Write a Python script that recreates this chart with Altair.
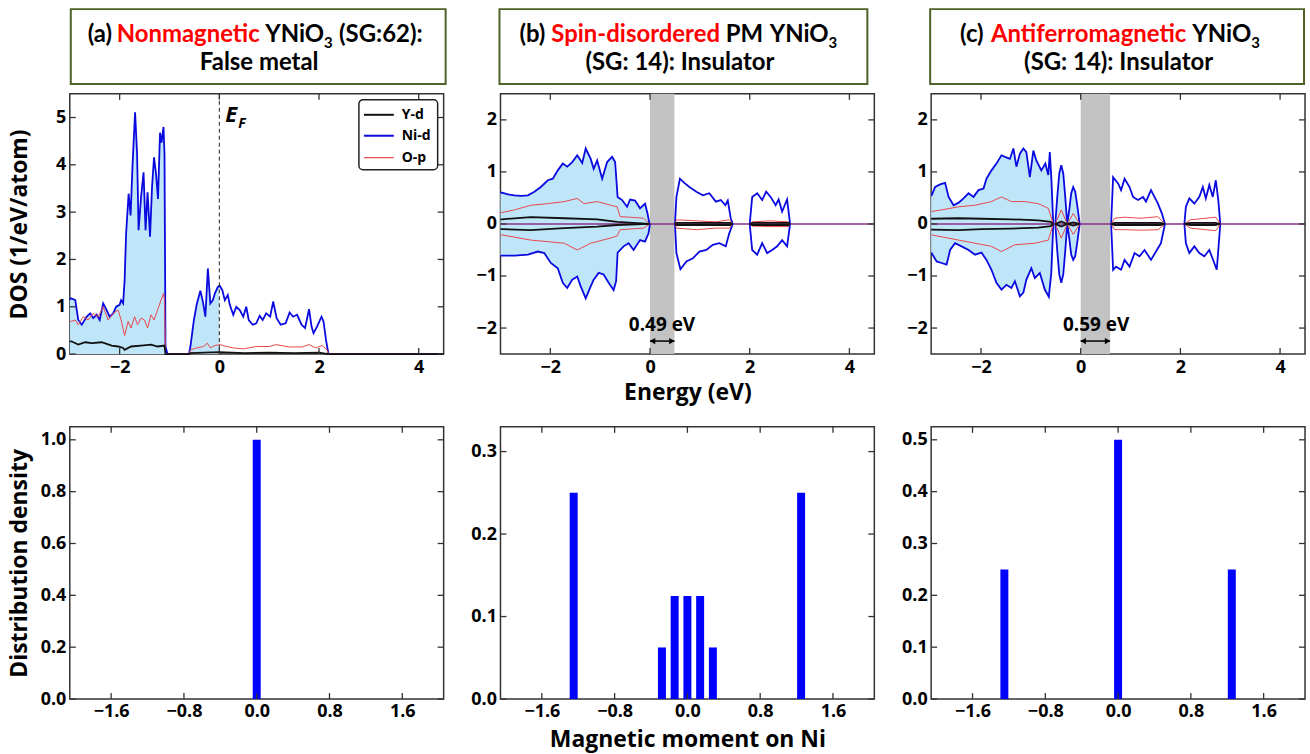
import altair as alt
import pandas as pd

# ---------------- data ----------------
# Panel (a): nonmagnetic DOS
A_NI_E = [-3.0, -2.97, -2.89, -2.83, -2.76, -2.66, -2.59, -2.53, -2.46, -2.40, -2.33, -2.26, -2.20, -2.13, -2.07,
          -2.00, -1.97, -1.93, -1.90, -1.87, -1.82, -1.78, -1.74, -1.69, -1.65, -1.62, -1.57, -1.52, -1.48, -1.44,
          -1.39, -1.35, -1.31, -1.27, -1.23, -1.19, -1.16, -1.12, -1.10, -1.08, -1.04, -0.61, -0.58, -0.51, -0.45,
          -0.38, -0.33, -0.28, -0.23, -0.18, -0.13, -0.09, -0.03, 0.0, 0.01, 0.06, 0.11, 0.17, 0.21, 0.28, 0.34,
          0.41, 0.48, 0.54, 0.59, 0.67, 0.74, 0.81, 0.87, 0.94, 1.02, 1.08, 1.15, 1.23, 1.33, 1.41, 1.48, 1.56,
          1.65, 1.72, 1.80, 1.85, 1.89, 1.96, 2.05, 2.09, 2.14, 2.19, 4.5]
A_NI_V = [1.15, 1.18, 1.14, 0.72, 0.62, 0.79, 0.86, 0.76, 0.83, 0.72, 1.07, 0.93, 0.79, 0.86, 1.00,
          1.04, 1.14, 1.07, 1.56, 2.55, 3.39, 2.93, 4.02, 5.11, 4.23, 2.62, 3.32, 3.84, 2.62, 3.42,
          2.48, 3.53, 4.16, 3.81, 3.28, 4.68, 4.47, 4.80, 4.23, 0.16, 0.0, 0.0, 0.16, 0.72, 1.07,
          1.34, 1.11, 0.79, 1.81, 1.07, 1.14, 1.28, 1.42, 1.44, 1.44, 1.35, 1.14, 1.25, 1.04, 0.83, 1.00,
          0.93, 0.79, 1.00, 0.72, 0.62, 0.65, 0.81, 0.72, 0.86, 0.79, 1.11, 0.76, 0.62, 0.65, 0.88, 0.79, 0.83,
          0.62, 0.55, 0.95, 0.58, 0.44, 0.58, 0.79, 0.69, 0.30, 0.0, 0.0]
A_OP_E = [-3.0, -2.97, -2.89, -2.83, -2.73, -2.63, -2.53, -2.43, -2.33, -2.23, -2.13, -2.03, -1.97, -1.90, -1.83,
          -1.77, -1.70, -1.64, -1.57, -1.50, -1.44, -1.37, -1.31, -1.24, -1.17, -1.12, -1.10, -1.08, -0.61, -0.58,
          -0.45, -0.32, -0.24, -0.18, -0.09, 0.01, 0.15, 0.28, 0.48, 0.74, 1.00, 1.14, 1.40, 1.66, 1.80, 1.93,
          2.06, 2.16, 2.19, 4.5]
A_OP_V = [0.70, 0.69, 0.72, 0.62, 0.79, 0.72, 0.86, 0.79, 1.00, 0.72, 0.86, 0.93, 0.72, 0.39, 0.69,
          0.55, 0.79, 0.62, 0.76, 0.72, 0.55, 0.83, 0.72, 0.93, 1.14, 1.28, 1.14, 0.0, 0.0, 0.09,
          0.13, 0.16, 0.23, 0.13, 0.18, 0.20, 0.16, 0.13, 0.11, 0.16, 0.16, 0.20, 0.15, 0.15, 0.20, 0.13,
          0.18, 0.09, 0.0, 0.0]
A_YD_E = [-3.0, -2.97, -2.83, -2.69, -2.56, -2.36, -2.16, -2.03, -1.93, -1.90, -1.77, -1.57, -1.37, -1.24,
          -1.10, -1.08, -0.61, -0.58, -0.30, 0.0, 0.5, 1.0, 1.5, 2.0, 2.19, 4.5]
A_YD_V = [0.27, 0.27, 0.20, 0.25, 0.23, 0.25, 0.18, 0.16, 0.13, 0.09, 0.16, 0.18, 0.20, 0.16,
          0.18, 0.0, 0.0, 0.02, 0.03, 0.04, 0.02, 0.03, 0.02, 0.03, 0.0, 0.0]

# Panel (b): spin-disordered PM DOS (up = positive, down = negative)
B_NIU_E = [-3.0, -2.97, -2.85, -2.72, -2.58, -2.45, -2.32, -2.19, -2.05, -1.95, -1.85, -1.75, -1.66, -1.56,
           -1.46, -1.36, -1.29, -1.19, -1.13, -1.06, -0.96, -0.86, -0.76, -0.70, -0.65, -0.56, -0.46, -0.40,
           -0.30, -0.20, -0.10, -0.05, -0.01, 0.50, 0.53, 0.60, 0.70, 0.79, 0.93, 1.06, 1.19, 1.32, 1.42, 1.51,
           1.56, 1.62, 1.66, 2.00, 2.05, 2.15, 2.25, 2.33, 2.42, 2.52, 2.58, 2.65, 2.75, 2.81, 4.5]
B_NIU_V = [0.60, 0.60, 0.57, 0.55, 0.54, 0.55, 0.62, 0.71, 0.84, 0.87, 1.03, 1.16, 1.10, 1.19,
           1.32, 1.17, 1.45, 1.25, 1.06, 1.22, 0.87, 1.19, 1.29, 1.19, 0.52, 0.46, 0.33, 0.47,
           0.45, 0.30, 0.39, 0.20, 0.0, 0.0, 0.52, 0.87, 0.78, 0.71, 0.62, 0.55, 0.59, 0.43, 0.46, 0.36,
           0.45, 0.11, 0.0, 0.0, 0.52, 0.59, 0.46, 0.62, 0.52, 0.36, 0.47, 0.24, 0.47, 0.0, 0.0]
B_NID_E = [-3.0, -2.97, -2.72, -2.45, -2.25, -2.12, -1.99, -1.85, -1.75, -1.66, -1.56, -1.46, -1.39, -1.29,
           -1.19, -1.13, -1.03, -0.93, -0.83, -0.73, -0.68, -0.65, -0.53, -0.43, -0.33, -0.20, -0.10, -0.03,
           0.0, 0.50, 0.53, 0.61, 0.73, 0.86, 0.99, 1.13, 1.26, 1.39, 1.52, 1.59, 1.66, 2.00, 2.05, 2.15,
           2.25, 2.35, 2.45, 2.55, 2.65, 2.75, 2.81, 4.5]
B_NID_V = [-0.61, -0.61, -0.61, -0.59, -0.53, -0.56, -0.75, -0.85, -1.13, -1.23, -1.07, -1.01, -1.20, -1.43,
           -1.20, -1.07, -0.94, -0.97, -1.13, -1.27, -1.10, -0.55, -0.43, -0.37, -0.50, -0.31, -0.34, -0.18,
           0.0, 0.0, -0.56, -0.87, -0.72, -0.66, -0.53, -0.50, -0.40, -0.37, -0.43, -0.18, 0.0, 0.0, -0.50, -0.59,
           -0.37, -0.56, -0.50, -0.43, -0.31, -0.43, 0.0, 0.0]
B_OPU_E = [-3.0, -2.97, -2.72, -2.39, -2.05, -1.72, -1.46, -1.32, -1.06, -0.79, -0.66, -0.60, -0.40, -0.13,
           -0.01, 0.50, 0.53, 0.93, 1.32, 1.59, 1.66, 2.00, 2.05, 2.42, 2.78, 2.81, 4.5]
B_OPU_V = [0.22, 0.22, 0.27, 0.36, 0.39, 0.43, 0.49, 0.39, 0.43, 0.36, 0.33, 0.14, 0.13, 0.11,
           0.0, 0.0, 0.08, 0.06, 0.04, 0.08, 0.0, 0.0, 0.04, 0.06, 0.04, 0.0, 0.0]
B_OPD_E = [-3.0, -2.97, -2.39, -2.05, -1.72, -1.46, -1.19, -0.79, -0.66, -0.60, -0.13, -0.01, 0.50, 0.53,
           0.93, 1.32, 1.59, 1.66, 2.00, 2.05, 2.42, 2.78, 2.81, 4.5]
B_OPD_V = [-0.21, -0.21, -0.31, -0.34, -0.37, -0.50, -0.37, -0.27, -0.23, -0.11, -0.08, 0.0, 0.0, -0.08,
           -0.11, -0.08, -0.08, 0.0, 0.0, -0.04, -0.05, -0.05, 0.0, 0.0]
B_YDU_E = [-3.0, -2.97, -2.39, -1.72, -1.06, -0.66, -0.01, 0.50, 0.53, 1.60, 1.66, 2.00, 2.05, 2.78, 2.81, 4.5]
B_YDU_V = [0.09, 0.09, 0.13, 0.11, 0.09, 0.04, 0.0, 0.0, 0.02, 0.02, 0.0, 0.0, 0.02, 0.02, 0.0, 0.0]
B_YDD_E = [-3.0, -2.97, -2.39, -1.72, -1.06, -0.66, -0.01, 0.50, 0.53, 1.60, 1.66, 2.00, 2.05, 2.78, 2.81, 4.5]
B_YDD_V = [-0.10, -0.10, -0.12, -0.08, -0.05, -0.02, 0.0, 0.0, -0.02, -0.02, 0.0, 0.0, -0.02, -0.02, 0.0, 0.0]

# Panel (c): antiferromagnetic DOS
C_NIU_E = [-3.0, -2.99, -2.92, -2.82, -2.72, -2.65, -2.55, -2.45, -2.35, -2.25, -2.15, -2.05, -1.95, -1.89,
           -1.79, -1.69, -1.59, -1.52, -1.42, -1.35, -1.29, -1.22, -1.15, -1.09, -1.02, -0.95, -0.89, -0.79,
           -0.71, -0.65, -0.62, -0.59, -0.55, -0.51, -0.47, -0.43, -0.39, -0.35, -0.31, -0.27, -0.23, -0.19,
           -0.15, -0.11, -0.07, -0.02, 0.61, 0.65, 0.75, 0.81, 0.88, 0.98, 1.05, 1.15, 1.25, 1.31, 1.41, 1.48,
           1.55, 1.63, 1.69, 2.08, 2.11, 2.18, 2.28, 2.38, 2.45, 2.51, 2.58, 2.65, 2.71, 2.76, 2.80, 4.5]
C_NIU_V = [0.55, 0.55, 0.71, 0.76, 0.79, 0.52, 0.36, 0.41, 0.49, 0.59, 0.52, 0.65, 0.68, 0.87,
           1.03, 1.16, 1.32, 1.29, 1.25, 1.45, 1.10, 1.35, 1.45, 1.38, 0.90, 1.41, 1.22, 1.03,
           1.16, 0.94, 1.38, 0.90, 0.0, 0.0, 0.52, 0.97, 1.13, 0.97, 0.52, 0.0, 0.27, 0.59,
           0.71, 0.62, 0.36, 0.0, 0.0, 0.90, 0.78, 0.65, 0.87, 0.71, 0.52, 0.46, 0.52, 0.43, 0.65, 0.52,
           0.39, 0.20, 0.0, 0.0, 0.33, 0.49, 0.39, 0.52, 0.71, 0.49, 0.75, 0.52, 0.84, 0.46, 0.0, 0.0]
C_NID_E = [-3.0, -2.99, -2.89, -2.79, -2.69, -2.62, -2.52, -2.39, -2.25, -2.12, -1.99, -1.89, -1.79, -1.69,
           -1.59, -1.49, -1.39, -1.32, -1.22, -1.15, -1.09, -0.99, -0.92, -0.82, -0.72, -0.64, -0.59, -0.55,
           -0.51, -0.47, -0.43, -0.39, -0.35, -0.31, -0.27, -0.23, -0.19, -0.15, -0.11, -0.07, -0.02, 0.61,
           0.65, 0.71, 0.81, 0.88, 0.98, 1.08, 1.18, 1.28, 1.41, 1.51, 1.61, 1.69, 2.08, 2.11, 2.18, 2.28,
           2.38, 2.48, 2.58, 2.68, 2.73, 2.80, 4.5]
C_NID_V = [-0.56, -0.56, -0.72, -0.75, -0.78, -0.50, -0.37, -0.43, -0.50, -0.59, -0.55, -0.69, -0.88, -1.13,
           -1.26, -1.17, -1.23, -1.10, -1.39, -1.32, -1.07, -0.85, -1.04, -0.94, -1.26, -1.40, -0.94, 0.0,
           0.0, -0.52, -0.97, -1.13, -0.97, -0.52, 0.0, -0.27, -0.59, -0.69, -0.62, -0.36, 0.0, 0.0,
           -0.88, -0.82, -0.88, -0.69, -0.82, -0.56, -0.62, -0.50, -0.69, -0.53, -0.37, 0.0, 0.0, -0.37, -0.56, -0.43,
           -0.56, -0.62, -0.50, -0.75, -0.88, 0.0, 0.0]
C_OPU_E = [-3.0, -2.99, -2.79, -2.45, -2.12, -1.79, -1.59, -1.39, -1.12, -0.85, -0.65, -0.55, -0.51, -0.39,
           -0.27, -0.15, -0.02, 0.61, 0.68, 0.88, 1.21, 1.55, 1.69, 2.08, 2.20, 2.71, 2.80, 4.5]
C_OPU_V = [0.24, 0.24, 0.27, 0.33, 0.36, 0.43, 0.52, 0.43, 0.43, 0.39, 0.30, 0.0, 0.0, 0.27,
           0.0, 0.20, 0.0, 0.0, 0.11, 0.13, 0.11, 0.14, 0.0, 0.0, 0.08, 0.13, 0.0, 0.0]
C_OPD_E = [-3.0, -2.99, -2.45, -2.12, -1.79, -1.59, -1.32, -0.92, -0.65, -0.55, -0.51, -0.39, -0.27, -0.15,
           -0.02, 0.61, 0.68, 0.88, 1.21, 1.55, 1.69, 2.08, 2.20, 2.71, 2.80, 4.5]
C_OPD_V = [-0.21, -0.21, -0.31, -0.37, -0.43, -0.53, -0.40, -0.37, -0.31, 0.0, 0.0, -0.27, 0.0, -0.20,
           0.0, 0.0, -0.11, -0.11, -0.12, -0.11, 0.0, 0.0, -0.08, -0.13, 0.0, 0.0]
C_YDU_E = [-3.0, -2.99, -2.45, -1.99, -1.39, -0.85, -0.60, -0.55, -0.51, -0.39, -0.27, -0.15, -0.02, 0.61,
           0.68, 1.60, 1.69, 2.08, 2.20, 2.70, 2.80, 4.5]
C_YDU_V = [0.10, 0.10, 0.11, 0.10, 0.09, 0.07, 0.04, 0.0, 0.0, 0.05, 0.0, 0.03, 0.0, 0.0,
           0.02, 0.02, 0.0, 0.0, 0.02, 0.02, 0.0, 0.0]
C_YDD_E = C_YDU_E
C_YDD_V = [-0.11, -0.11, -0.12, -0.10, -0.09, -0.07, -0.04, 0.0, 0.0, -0.05, 0.0, -0.03, 0.0, 0.0,
           -0.02, -0.02, 0.0, 0.0, -0.02, -0.02, 0.0, 0.0]

GAP_B = 0.49
GAP_C = 0.59

# Magnetic moment histograms
HA_M = [0.0]
HA_D = [1.0]
HB_M = [-1.25, -0.28, -0.14, 0.0, 0.14, 0.28, 1.25]
HB_D = [0.25, 0.0625, 0.125, 0.125, 0.125, 0.0625, 0.25]
HC_M = [-1.25, 0.0, 1.25]
HC_D = [0.25, 0.5, 0.25]

DOS_XTICKS = [-2, 0, 2, 4]
DOSA_YTICKS = [0, 1, 2, 3, 4, 5]
DOSBC_YTICKS = [-2, -1, 0, 1, 2]
HIST_XTICKS = [-1.6, -0.8, 0.0, 0.8, 1.6]
HA_YTICKS = [0.0, 0.2, 0.4, 0.6, 0.8, 1.0]
HB_YTICKS = [0.0, 0.1, 0.2, 0.3]
HC_YTICKS = [0.0, 0.1, 0.2, 0.3, 0.4, 0.5]

# ---------------- styling ----------------
W = 375
H_DOS = 261
H_HIST = 273
FONT = "Open Sans"
TFONT = "Lato"
TSIZE = 24
BLUE = "#0a0ae0"
RED = "#e8484a"
BLACK = "#111111"
FILL = "#bfe5f8"
BOXC = "#4f6228"
ZEROC = "#8a2f8a"
DUMMY = pd.DataFrame({"k": [0]})


def df(e, v):
    return pd.DataFrame({"E": e, "V": v})


def seg_df(e, v):
    """Split a curve into pieces, leaving out spans where the curve sits at zero."""
    rows, s = [], 0
    for i in range(len(e)):
        rows.append({"E": e[i], "V": v[i], "s": s})
        if i < len(e) - 1 and v[i] == 0 and v[i + 1] == 0:
            s += 1
    return pd.DataFrame(rows)


def xenc(dom, vals, fmt, title=None, title_y=39):
    kw = dict(values=vals, format=fmt, labelPadding=4, labelFlush=False, labelOverlap=False)
    if title:
        kw.update(title=title, titleY=title_y, titleBaseline="middle", titleAlign="center")
    else:
        kw["title"] = None
    return alt.X("E:Q", scale=alt.Scale(domain=dom, nice=False, zero=False), axis=alt.Axis(**kw))


def yenc(dom, vals, fmt, h, title=None):
    kw = dict(values=vals, format=fmt, labelPadding=4, labelFlush=False, labelOverlap=False)
    if title:
        kw.update(title=title, titleX=-50, titleY=h / 2, titleBaseline="middle", titleAlign="center",
                  titleAngle=270)
    else:
        kw["title"] = None
    return alt.Y("V:Q", scale=alt.Scale(domain=dom, nice=False, zero=False), axis=alt.Axis(**kw))


def ticks(X, Y, xt, yt, h):
    tx = pd.DataFrame({"E": xt})
    ty = pd.DataFrame({"V": yt})
    L = []
    L.append(alt.Chart(tx).mark_rule(color="#333", strokeWidth=1.3).encode(x=X, y=alt.value(h), y2=alt.value(h - 6)))
    L.append(alt.Chart(tx).mark_rule(color="#333", strokeWidth=1.3).encode(x=X, y=alt.value(0), y2=alt.value(6)))
    L.append(alt.Chart(ty).mark_rule(color="#333", strokeWidth=1.3).encode(y=Y, x=alt.value(0), x2=alt.value(6)))
    L.append(alt.Chart(ty).mark_rule(color="#333", strokeWidth=1.3).encode(y=Y, x=alt.value(W), x2=alt.value(W - 6)))
    return L


def txt(s, x, y, size=TSIZE, color="#000", font=TFONT, align="left", baseline="alphabetic", style="normal"):
    return alt.Chart(DUMMY).mark_text(text=s, font=font, fontSize=size, fontWeight="bold", color=color,
                                      align=align, baseline=baseline, fontStyle=style).encode(
        x=alt.value(x), y=alt.value(y))


def title_box(x1, x2, pieces, line2, l2x):
    L = [alt.Chart(DUMMY).mark_rect(fillOpacity=0, stroke=BOXC, strokeWidth=2).encode(
        x=alt.value(x1), x2=alt.value(x2), y=alt.value(-85), y2=alt.value(-10))]
    for s, x, col, sub in pieces:
        if sub:
            L.append(txt(s, x, -46, size=15, color=col))
        else:
            L.append(txt(s, x, -52, color=col))
    L.append(txt(line2, l2x, -24, align="center"))
    return L


def lines(X, Y, series, split=False):
    L = []
    for e, v, col, sw in series:
        if split:
            L.append(alt.Chart(seg_df(e, v)).mark_line(color=col, strokeWidth=sw, interpolate="linear").encode(
                x=X, y=Y, detail="s:N"))
        else:
            L.append(alt.Chart(df(e, v)).mark_line(color=col, strokeWidth=sw, interpolate="linear").encode(x=X, y=Y))
    return L


def fill(X, Y, e, v):
    d = df(e, v)
    d = d[d["E"] <= 0.001]
    return alt.Chart(d).mark_area(color=FILL, opacity=1, interpolate="linear").encode(x=X, y=Y, y2=alt.Y2(datum=0))


# ---------------- panel (a) DOS ----------------
XA = xenc([-3, 4.5], DOS_XTICKS, "d")
YA = yenc([0, 5.5], DOSA_YTICKS, "d", H_DOS, title="DOS (1/eV/atom)")
layers_a = [fill(XA, YA, A_NI_E, A_NI_V)]
layers_a += lines(XA, YA, [(A_NI_E, A_NI_V, BLUE, 1.8), (A_OP_E, A_OP_V, RED, 1.0), (A_YD_E, A_YD_V, BLACK, 1.8)])
layers_a.append(alt.Chart(DUMMY).mark_rule(color="#222", strokeWidth=1, strokeDash=[4, 3]).encode(x=alt.datum(0)))
layers_a += ticks(XA, YA, DOS_XTICKS, DOSA_YTICKS, H_DOS)
layers_a.append(txt("E", 156, 28, size=22, font=FONT, style="italic"))
layers_a.append(txt("F", 169, 34, size=14, font=FONT, style="italic"))
# legend box
layers_a.append(alt.Chart(DUMMY).mark_rect(fill="white", stroke="#222", strokeWidth=1.5, cornerRadius=4).encode(
    x=alt.value(290), x2=alt.value(369), y=alt.value(6), y2=alt.value(76)))
for lab, col, sw, yy in [("Y-d", BLACK, 2, 21), ("Ni-d", BLUE, 2, 42), ("O-p", RED, 1.2, 64)]:
    layers_a.append(alt.Chart(DUMMY).mark_rule(color=col, strokeWidth=sw).encode(
        x=alt.value(295), x2=alt.value(325), y=alt.value(yy)))
    layers_a.append(txt(lab, 333, yy, size=14, font=FONT, baseline="middle"))
layers_a += title_box(1, 377, [("(a)", 18, "#000", False), ("Nonmagnetic", 47, "#ff0000", False),
                               ("YNiO", 196, "#000", False), ("3", 255, "#000", True),
                               ("(SG:62):", 270, "#000", False)], "False metal", 190)
dos_a = alt.layer(*layers_a).properties(width=W, height=H_DOS)


# ---------------- panels (b), (c) DOS ----------------
def dos_spin(niu, nid, opu, opd, ydu, ydd, gap, gaplabel, lab_x, xtitle, tb):
    X = xenc([-3, 4.5], DOS_XTICKS, "d", title=xtitle, title_y=39)
    Y = yenc([-2.5, 2.5], DOSBC_YTICKS, "d", H_DOS)
    L = []
    band = pd.DataFrame({"E": [0.0], "E2": [gap]})
    L.append(alt.Chart(band).mark_rect(color="#c3c3c3").encode(x=X, x2="E2:Q", y=alt.value(0), y2=alt.value(H_DOS)))
    L.append(fill(X, Y, *niu))
    L.append(fill(X, Y, *nid))
    L.append(alt.Chart(DUMMY).mark_rule(color=ZEROC, strokeWidth=1.6).encode(y=alt.datum(0)))
    L += lines(X, Y, [(niu[0], niu[1], BLUE, 1.8), (nid[0], nid[1], BLUE, 1.8),
                      (opu[0], opu[1], RED, 1.0), (opd[0], opd[1], RED, 1.0),
                      (ydu[0], ydu[1], BLACK, 1.8), (ydd[0], ydd[1], BLACK, 1.8)], split=True)
    L += ticks(X, Y, DOS_XTICKS, DOSBC_YTICKS, H_DOS)
    arr = pd.DataFrame({"E": [0.0], "E2": [gap], "V": [-2.25]})
    L.append(alt.Chart(arr).mark_rule(color="#000", strokeWidth=1.5).encode(x=X, x2="E2:Q", y=Y))
    L.append(alt.Chart(pd.DataFrame({"E": [0.05], "V": [-2.25]})).mark_point(
        shape="triangle-left", size=40, filled=True, color="#000", opacity=1).encode(x=X, y=Y))
    L.append(alt.Chart(pd.DataFrame({"E": [gap - 0.05], "V": [-2.25]})).mark_point(
        shape="triangle-right", size=40, filled=True, color="#000", opacity=1).encode(x=X, y=Y))
    L.append(alt.Chart(pd.DataFrame({"E": [lab_x], "V": [-1.94]})).mark_text(
        text=gaplabel, font=FONT, fontSize=19, fontWeight="bold", color="#000").encode(x=X, y=Y))
    L += title_box(*tb)
    return alt.layer(*L).properties(width=W, height=H_DOS)


dos_b = dos_spin((B_NIU_E, B_NIU_V), (B_NID_E, B_NID_V), (B_OPU_E, B_OPU_V), (B_OPD_E, B_OPD_V),
                 (B_YDU_E, B_YDU_V), (B_YDD_E, B_YDD_V), GAP_B, "0.49 eV", 0.24, "Energy (eV)",
                 (-1, 368, [("(b)", 19, "#000", False), ("Spin-disordered", 51, "#ff0000", False),
                            ("PM", 226, "#000", False), ("YNiO", 270, "#000", False),
                            ("3", 329, "#000", True)], "(SG: 14): Insulator", 180))
dos_c = dos_spin((C_NIU_E, C_NIU_V), (C_NID_E, C_NID_V), (C_OPU_E, C_OPU_V), (C_OPD_E, C_OPD_V),
                 (C_YDU_E, C_YDU_V), (C_YDD_E, C_YDD_V), GAP_C, "0.59 eV", 0.31, None,
                 (-1, 374, [("(c)", 29, "#000", False), ("Antiferromagnetic", 60, "#ff0000", False),
                            ("YNiO", 262, "#000", False), ("3", 321, "#000", True)],
                  "(SG: 14): Insulator", 188))


# ---------------- histograms ----------------
def hist(m, d, ydom, yt, ytitle=None, xtitle=None):
    X = xenc([-2, 2], HIST_XTICKS, ".1f", title=xtitle, title_y=41)
    Y = yenc(ydom, yt, ".1f", H_HIST, title=ytitle)
    L = [alt.Chart(df(m, d)).mark_bar(size=8, color="#0000ff").encode(x=X, y=Y)]
    L += ticks(X, Y, HIST_XTICKS, yt, H_HIST)
    return alt.layer(*L).properties(width=W, height=H_HIST)


h_a = hist(HA_M, HA_D, [0, 1.05], HA_YTICKS, ytitle="Distribution density")
h_b = hist(HB_M, HB_D, [0, 0.33], HB_YTICKS, xtitle="Magnetic moment on Ni")
h_c = hist(HC_M, HC_D, [0, 0.525], HC_YTICKS)

chart = alt.concat(dos_a, dos_b, dos_c, h_a, h_b, h_c, columns=3, spacing={"row": 73, "column": 57},
                   bounds="flush", align="each").properties(
    padding={"left": 8, "top": 6, "right": 0, "bottom": 0}, background="white"
).configure_view(stroke="#333333", strokeWidth=1.5).configure_axis(
    grid=False, domain=False, ticks=False, labelFont=FONT, labelFontWeight="bold", labelFontSize=18,
    labelColor="#000", titleFont=FONT, titleFontWeight="bold", titleFontSize=23, titleColor="#000"
)

chart.save("out.html", embed_options={"renderer": "svg", "actions": False})
